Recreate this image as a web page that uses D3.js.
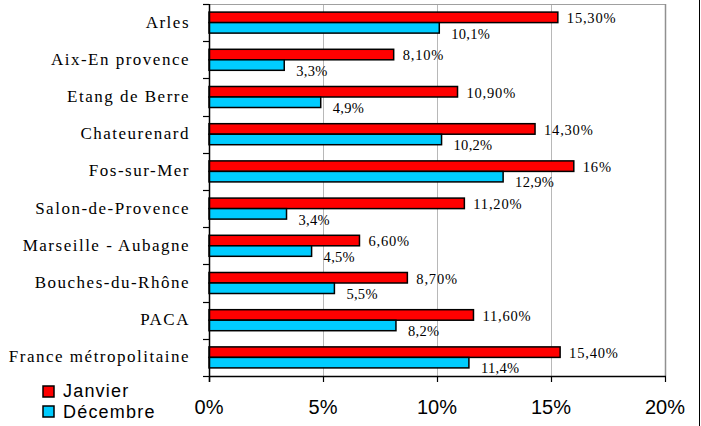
<!DOCTYPE html>
<html><head><meta charset="utf-8">
<script src="https://cdn.jsdelivr.net/npm/d3@7"></script>
<style>body{margin:0;background:#fff}svg{display:block}
.serif{font-family:"Liberation Serif","Times New Roman",Times,serif}
.sans{font-family:"Liberation Sans",Arial,Helvetica,sans-serif}</style>
</head><body>
<svg id="c" width="701" height="426"></svg>
<script>
const categories = ["Arles","Aix-En provence","Etang de Berre","Chateurenard","Fos-sur-Mer","Salon-de-Provence","Marseille - Aubagne","Bouches-du-Rhône","PACA","France métropolitaine"];
const janvier = [15.3, 8.1, 10.9, 14.3, 16, 11.2, 6.6, 8.7, 11.6, 15.4];
const decembre = [10.1, 3.3, 4.9, 10.2, 12.9, 3.4, 4.5, 5.5, 8.2, 11.4];
const janvierLabels = ["15,30%","8,10%","10,90%","14,30%","16%","11,20%","6,60%","8,70%","11,60%","15,40%"];
const decembreLabels = ["10,1%","3,3%","4,9%","10,2%","12,9%","3,4%","4,5%","5,5%","8,2%","11,4%"];
const xTicks = [0, 5, 10, 15, 20];
const seriesNames = ["Janvier","Décembre"];
const colors = ["#FF0000","#00CCFF"];

const svg = d3.select("#c");
const L = 209, R = 665, T = 4, B = 376;
const x = d3.scaleLinear().domain([0, 20]).range([L, R]);
const y = d3.scaleBand().domain(categories).range([T, B]).paddingInner(0.435).paddingOuter(0.2175);
const sub = d3.scaleBand().domain([0,1]).range([0, y.bandwidth()]);

svg.append("line").attr("x1",699.5).attr("x2",699.5).attr("y1",0).attr("y2",426).attr("stroke","#000").attr("stroke-width",1);

svg.append("g").selectAll("line").data(xTicks.filter(d=>d>0)).join("line")
  .attr("x1",d=>Math.round(x(d))+0.5).attr("x2",d=>Math.round(x(d))+0.5)
  .attr("y1",T).attr("y2",B).attr("stroke","#b8b8b8").attr("stroke-width",1);
svg.append("line").attr("x1",L).attr("x2",R+1).attr("y1",T+0.5).attr("y2",T+0.5).attr("stroke","#a0a0a0");
svg.append("line").attr("x1",R+0.5).attr("x2",R+0.5).attr("y1",T).attr("y2",B).attr("stroke","#909090").attr("stroke-width",1.5);

const g = svg.append("g");
const data = categories.map((c,i)=>({c, vals:[janvier[i], decembre[i]], labs:[janvierLabels[i], decembreLabels[i]]}));
data.forEach(d=>{
  d.vals.forEach((v,k)=>{
    g.append("rect")
      .attr("x", x(0)).attr("y", y(d.c)+sub(k))
      .attr("width", x(v)-x(0)).attr("height", sub.bandwidth())
      .attr("fill", colors[k]).attr("stroke","#000").attr("stroke-width",1.5);
  });
  g.append("text").attr("class","serif").attr("x", x(d.vals[0])+9).attr("y", y(d.c)+sub(0)+sub.bandwidth()+0.5)
    .attr("font-size",14.5).attr("letter-spacing","0.8px")
    .attr("fill","#000").text(d.labs[0]);
  g.append("text").attr("class","serif").attr("x", x(d.vals[1])+12).attr("y", y(d.c)+sub(1)+sub.bandwidth()+5.5)
    .attr("font-size",14.5).attr("letter-spacing","0.3px")
    .attr("fill","#000").text(d.labs[1]);
});

const yAxisG = svg.append("g");
yAxisG.append("line").attr("x1",L+0.5).attr("x2",L+0.5).attr("y1",T).attr("y2",B+6).attr("stroke","#000").attr("stroke-width",1.5);
const bounds = categories.map(c=>y(c)-y.step()*y.paddingInner()/2).concat([B]);
yAxisG.selectAll("line.t").data(bounds).join("line").attr("class","t")
  .attr("x1",L-6).attr("x2",L).attr("y1",d=>Math.round(d)+0.5).attr("y2",d=>Math.round(d)+0.5)
  .attr("stroke","#000").attr("stroke-width",1.2);
yAxisG.selectAll("text").data(categories).join("text").attr("class","serif")
  .attr("x",190).attr("y",d=>y(d)+y.bandwidth()/2+5)
  .attr("text-anchor","end").attr("font-size",17)
  .attr("letter-spacing","1.5px").attr("fill","#000").text(d=>d);

const xAxisG = svg.append("g");
xAxisG.append("line").attr("x1",L).attr("x2",R+1).attr("y1",B+0.5).attr("y2",B+0.5).attr("stroke","#000").attr("stroke-width",1.5);
xAxisG.selectAll("line.t").data(xTicks).join("line").attr("class","t")
  .attr("x1",d=>Math.round(x(d))+0.5).attr("x2",d=>Math.round(x(d))+0.5).attr("y1",B).attr("y2",B+6)
  .attr("stroke","#000").attr("stroke-width",1.2);
xAxisG.selectAll("text").data(xTicks).join("text").attr("class","sans")
  .attr("x",d=>x(d)).attr("y",413.5).attr("text-anchor","middle")
  .attr("font-size",20).attr("fill","#000").text(d=>d+"%");

const lg = svg.append("g");
seriesNames.forEach((n,i)=>{
  lg.append("rect").attr("x",43).attr("y",386+i*20).attr("width",11).attr("height",11)
    .attr("fill",colors[i]).attr("stroke","#000").attr("stroke-width",1.5);
  lg.append("text").attr("class","sans").attr("x",63).attr("y",397+i*21)
    .attr("font-size",18).attr("letter-spacing","1.2px").attr("fill","#000").text(n);
});
</script>
</body></html>
